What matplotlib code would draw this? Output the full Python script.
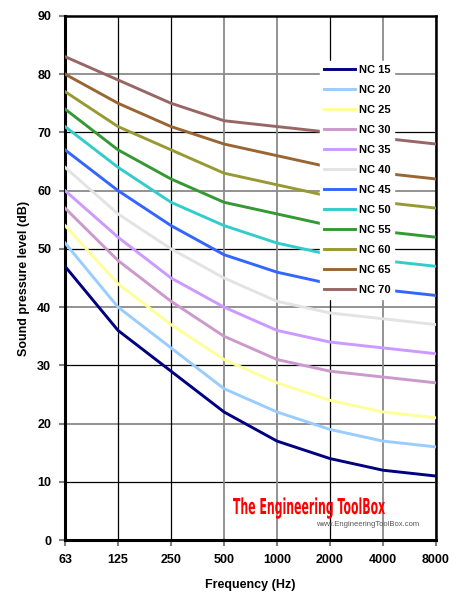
import matplotlib.pyplot as plt
from matplotlib.textpath import TextPath
from matplotlib.patches import PathPatch
from matplotlib.font_manager import FontProperties
from matplotlib.transforms import Affine2D, IdentityTransform

plt.rcParams['font.family'] = ['Liberation Sans', 'DejaVu Sans']

frequencies = ["63", "125", "250", "500", "1000", "2000", "4000", "8000"]

nc_labels = ["NC 15", "NC 20", "NC 25", "NC 30", "NC 35", "NC 40",
             "NC 45", "NC 50", "NC 55", "NC 60", "NC 65", "NC 70"]

nc15 = [47, 36, 29, 22, 17, 14, 12, 11]
nc20 = [51, 40, 33, 26, 22, 19, 17, 16]
nc25 = [54, 44, 37, 31, 27, 24, 22, 21]
nc30 = [57, 48, 41, 35, 31, 29, 28, 27]
nc35 = [60, 52, 45, 40, 36, 34, 33, 32]
nc40 = [64, 56, 50, 45, 41, 39, 38, 37]
nc45 = [67, 60, 54, 49, 46, 44, 43, 42]
nc50 = [71, 64, 58, 54, 51, 49, 48, 47]
nc55 = [74, 67, 62, 58, 56, 54, 53, 52]
nc60 = [77, 71, 67, 63, 61, 59, 58, 57]
nc65 = [80, 75, 71, 68, 66, 64, 63, 62]
nc70 = [83, 79, 75, 72, 71, 70, 69, 68]

colors = ["#000080", "#99CCFF", "#FFFF99", "#CC99CC", "#CC99FF", "#E3E3E3",
          "#3366FF", "#33CCCC", "#339933", "#999933", "#996633", "#996666"]

curves = [nc15, nc20, nc25, nc30, nc35, nc40, nc45, nc50, nc55, nc60, nc65, nc70]


def add_logo(fig, text, x0, x1, baseline, cap_height):
    # narrow, tall lettering squeezed to fit between x0 and x1 (pixels)
    tp = TextPath((0, 0), text, size=100,
                  prop=FontProperties(family="DejaVu Sans", weight="bold"))
    ext = tp.get_extents()
    sx = (x1 - x0) / ext.width
    sy = cap_height / 73.0
    tr = Affine2D().translate(-ext.x0, 0).scale(sx, sy).translate(x0, baseline)
    patch = PathPatch(tr.transform_path(tp), facecolor="#FF0000",
                      edgecolor="none", transform=IdentityTransform())
    fig.patches.append(patch)


def main():
    fig = plt.figure(figsize=(4.58, 6.11), dpi=100)
    ax = fig.add_axes([0.142, 0.116, 0.81, 0.858])

    x = list(range(len(frequencies)))

    # grid lines: alternating black / gray as in the original
    for y in range(10, 90, 10):
        odd = (y // 10) % 2
        ax.axhline(y, color="black" if odd else "#8a8a8a",
                   lw=0.9 if odd else 1.3, zorder=1)
    for i in x[1:]:
        black = frequencies[i] in ("125", "250", "2000")
        ax.axvline(i, color="black" if black else "#8a8a8a",
                   lw=0.9 if black else 1.3, zorder=1)

    for values, label, color in zip(curves, nc_labels, colors):
        ax.plot(x, values, color=color, lw=2.1, label=label, zorder=3)

    ax.set_xlim(0, 7)
    ax.set_ylim(0, 90)
    ax.set_xticks(x)
    ax.set_xticklabels(frequencies, fontweight="bold", fontsize=9)
    ax.set_yticks(range(0, 100, 10))
    ax.set_yticklabels([str(v) for v in range(0, 100, 10)],
                       fontweight="bold", fontsize=9)
    ax.tick_params(axis="both", length=4, width=1.5, color="#808080",
                   direction="out", pad=6)

    for side in ["left", "bottom"]:
        ax.spines[side].set_linewidth(2.2)
    for side in ["top", "right"]:
        ax.spines[side].set_linewidth(1.8)

    ax.set_xlabel("Frequency (Hz)", fontweight="bold", fontsize=9, labelpad=9)
    ax.set_ylabel("Sound pressure level (dB)", fontweight="bold", fontsize=9,
                  labelpad=5)

    leg = ax.legend(loc="upper left", bbox_to_anchor=(0.672, 0.925),
                    frameon=True, fancybox=False, edgecolor="white",
                    facecolor="white", framealpha=1.0, handlelength=2.8,
                    handletextpad=0.35, labelspacing=0.9, borderpad=0.35,
                    prop={"weight": "bold", "size": 8})
    leg.set_zorder(5)

    add_logo(fig, "The Engineering ToolBox", 233, 385, 611 - 514, 16)
    fig.text(316 / 458, 1 - 526 / 611, "www.EngineeringToolBox.com",
             color="#555555", fontsize=5.5, fontstretch="condensed")

    fig.savefig("out.png", dpi=100)


if __name__ == "__main__":
    main()
